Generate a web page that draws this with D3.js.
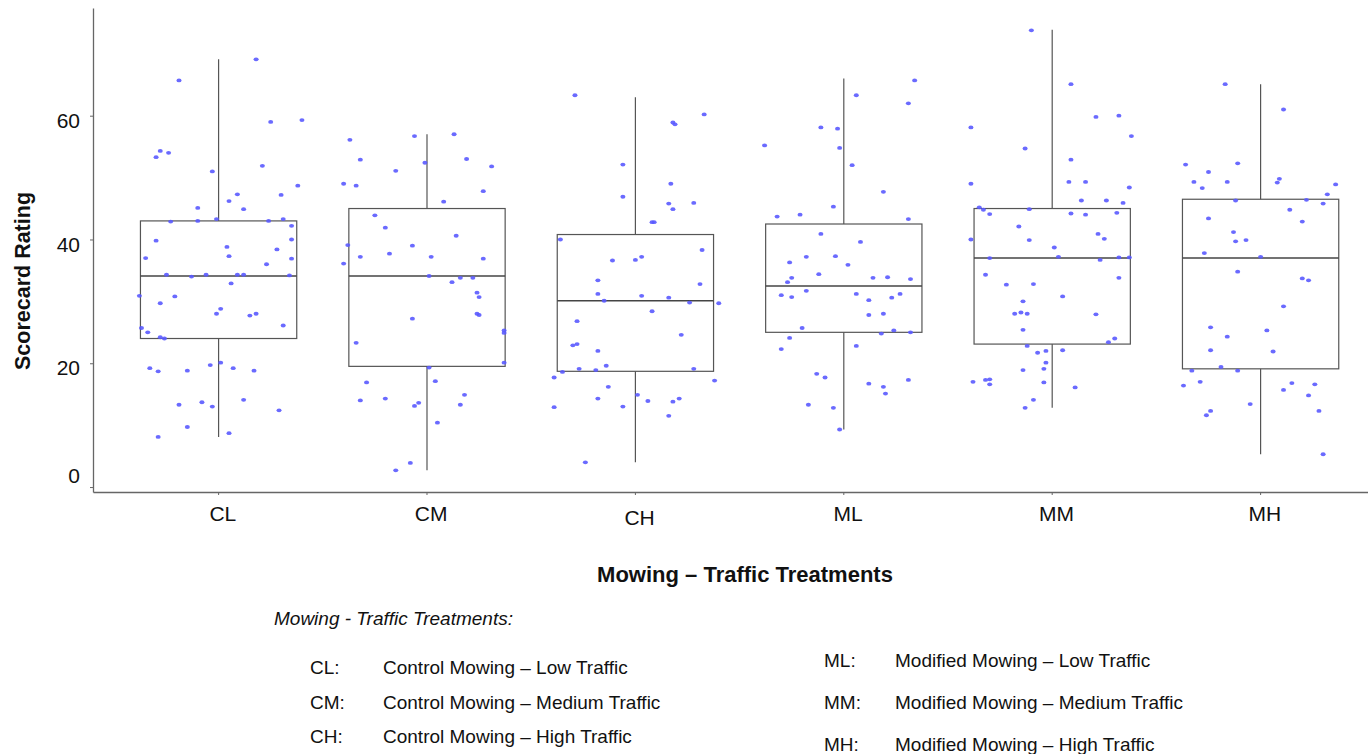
<!DOCTYPE html>
<html>
<head>
<meta charset="utf-8">
<script src="https://cdn.jsdelivr.net/npm/d3@7"></script>
<style>
  html, body { margin: 0; padding: 0; background: #fff; }
  svg { display: block; font-family: "Liberation Sans", Arial, Helvetica, sans-serif; }
</style>
</head>
<body>
<svg id="chart" width="1368" height="754"></svg>
<script>
// Treatment codes along the x axis
const categories = ["CL", "CM", "CH", "ML", "MM", "MH"];

// Box summaries per treatment: lower whisker, Q1, median, Q3, upper whisker
const whiskerLow  = [8.1, 2.7, 4.0, 9.3, 12.8, 5.3];
const q1          = [24.0, 19.5, 18.7, 25.0, 23.1, 19.1];
const medians     = [34.1, 34.1, 30.1, 32.5, 37.0, 37.0];
const q3          = [43.0, 45.0, 40.8, 42.5, 45.0, 46.5];
const whiskerHigh = [69.1, 57.0, 63.0, 66.0, 73.9, 65.1];

// Individual scorecard ratings per treatment
const ratingsCL = [69.1, 65.7, 59.0, 59.3, 54.3, 54.0, 53.3, 51.9, 51.0, 48.7, 47.3, 47.2, 46.2, 45.1, 44.9, 42.9, 43.0, 43.3, 43.0, 43.3, 42.2, 39.8, 40.0, 38.8, 38.4, 37.3, 37.0, 36.9, 36.0, 34.3, 34.0, 34.3, 34.3, 34.3, 34.2, 32.9, 30.9, 30.8, 29.7, 28.8, 28.0, 28.0, 27.7, 26.1, 25.7, 25.0, 24.2, 24.0, 20.1, 19.7, 19.2, 19.2, 18.7, 18.8, 18.8, 14.1, 13.3, 13.7, 13.0, 12.4, 9.7, 8.1, 8.7];
const ratingsCM = [56.1, 56.7, 57.0, 52.9, 52.4, 53.0, 51.1, 51.8, 49.0, 48.7, 47.8, 46.1, 43.9, 41.9, 40.6, 39.1, 39.0, 37.7, 37.2, 37.2, 36.9, 36.1, 34.1, 33.1, 33.8, 33.8, 31.4, 30.7, 28.0, 27.8, 27.2, 25.3, 24.9, 23.3, 20.1, 19.3, 16.9, 17.1, 14.0, 14.3, 14.9, 13.6, 13.1, 13.3, 10.4, 3.9, 2.7];
const ratingsCH = [63.3, 60.2, 58.9, 58.6, 52.1, 49.0, 46.9, 45.8, 45.9, 44.9, 42.8, 42.8, 40.0, 38.3, 36.6, 36.7, 37.2, 33.4, 32.8, 31.2, 30.9, 30.6, 30.1, 29.8, 29.7, 28.4, 26.8, 24.6, 23.1, 22.9, 22.0, 19.6, 19.1, 18.9, 19.1, 18.6, 17.7, 17.2, 16.2, 14.3, 14.9, 13.9, 13.8, 14.3, 12.9, 13.0, 11.5, 4.0];
const ratingsML = [65.7, 63.3, 62.0, 58.1, 57.9, 55.2, 54.8, 52.0, 47.7, 45.3, 43.7, 44.0, 43.3, 40.9, 39.6, 37.2, 37.3, 36.3, 35.9, 34.4, 33.8, 33.1, 33.8, 33.9, 33.6, 31.7, 31.0, 30.7, 31.2, 30.2, 30.6, 31.2, 27.8, 28.0, 25.7, 24.8, 25.3, 25.0, 24.1, 22.3, 22.8, 18.3, 17.7, 16.7, 16.2, 15.1, 17.3, 13.3, 12.8, 9.3];
const ratingsMM = [73.8, 65.1, 59.8, 60.0, 58.1, 56.7, 54.7, 52.9, 49.0, 49.3, 49.3, 48.4, 46.3, 46.3, 45.9, 45.2, 44.8, 44.9, 44.1, 44.2, 44.0, 44.3, 42.1, 40.9, 40.0, 39.9, 40.1, 38.7, 37.0, 37.2, 36.7, 37.1, 37.1, 34.3, 33.8, 32.7, 32.8, 30.8, 30.0, 28.0, 28.2, 28.0, 27.9, 25.4, 24.0, 23.4, 22.8, 21.7, 22.0, 22.1, 20.1, 18.9, 19.1, 17.0, 17.3, 17.4, 16.6, 16.9, 16.1, 14.1, 12.8];
const ratingsMH = [65.1, 61.0, 52.1, 52.3, 50.9, 49.3, 49.3, 48.3, 49.8, 49.2, 48.9, 47.3, 46.3, 46.4, 45.8, 44.8, 43.4, 42.9, 41.2, 39.7, 39.9, 37.8, 37.2, 34.8, 33.7, 33.4, 29.2, 25.8, 25.3, 24.3, 22.1, 21.9, 19.4, 18.8, 18.8, 16.4, 17.0, 15.7, 16.8, 16.6, 14.8, 13.4, 12.3, 11.6, 12.3, 5.3];

// Horizontal jitter of each rating, as a fraction of the category band
const jitterCL = [0.18, -0.19, 0.25, 0.40, -0.28, -0.24, -0.30, 0.21, -0.03, 0.38, 0.09, 0.30, 0.05, -0.10, 0.12, -0.23, -0.10, -0.01, 0.24, 0.31, 0.35, -0.30, 0.35, 0.04, 0.28, 0.05, -0.35, 0.35, 0.23, -0.25, -0.13, -0.06, 0.09, 0.12, 0.34, 0.06, -0.38, -0.21, -0.28, 0.01, -0.01, 0.18, 0.15, 0.31, -0.37, -0.34, -0.28, -0.26, 0.01, -0.04, -0.33, 0.07, -0.29, -0.15, 0.17, 0.12, -0.19, -0.08, -0.03, 0.29, -0.15, -0.29, 0.05];
const jitterCM = [-0.37, -0.06, 0.13, -0.32, -0.01, 0.19, -0.15, 0.31, -0.40, -0.34, 0.27, 0.08, -0.25, -0.20, 0.14, -0.38, -0.07, -0.18, -0.32, 0.02, 0.27, -0.40, 0.01, 0.12, 0.16, 0.22, 0.24, 0.25, 0.24, 0.25, -0.07, 0.37, 0.37, -0.34, 0.37, 0.01, -0.29, 0.04, -0.32, -0.20, 0.18, -0.04, -0.06, 0.16, 0.05, -0.08, -0.15];
const jitterCH = [-0.29, 0.33, 0.18, 0.19, -0.06, 0.17, -0.06, 0.16, 0.28, 0.18, 0.08, 0.09, -0.36, 0.32, -0.11, 0.00, 0.03, -0.18, 0.31, -0.18, 0.03, 0.16, -0.15, 0.26, 0.40, 0.08, -0.28, 0.22, -0.28, -0.30, -0.18, -0.14, -0.27, -0.19, 0.28, -0.35, -0.39, 0.38, -0.13, -0.18, 0.01, 0.06, 0.18, 0.21, -0.39, -0.06, 0.16, -0.24];
const jitterML = [0.34, 0.06, 0.31, -0.11, -0.03, -0.38, -0.02, 0.04, 0.19, -0.05, -0.32, -0.21, 0.31, -0.11, 0.08, -0.18, -0.04, -0.26, 0.02, -0.12, -0.25, -0.27, 0.14, 0.21, 0.32, -0.18, -0.30, -0.25, 0.06, 0.12, 0.23, 0.27, 0.12, 0.19, -0.20, 0.18, 0.24, 0.32, -0.26, -0.30, 0.06, -0.13, -0.09, 0.12, 0.19, 0.20, 0.31, -0.17, -0.05, -0.02];
const jitterMM = [-0.10, 0.09, 0.21, 0.32, -0.39, 0.38, -0.13, 0.09, -0.39, 0.08, 0.16, 0.37, 0.14, 0.26, 0.34, -0.35, -0.33, -0.11, -0.30, 0.09, 0.16, 0.31, -0.16, 0.22, -0.39, -0.11, 0.25, 0.01, -0.30, 0.03, 0.23, 0.32, 0.37, -0.32, 0.32, -0.22, -0.09, 0.05, -0.14, -0.18, -0.15, -0.12, 0.21, -0.14, 0.30, 0.27, -0.12, -0.07, -0.03, 0.05, -0.03, -0.14, -0.04, -0.38, -0.32, -0.30, -0.30, -0.04, 0.11, -0.09, -0.13];
const jitterMH = [-0.17, 0.11, -0.36, -0.11, -0.25, -0.32, -0.16, -0.28, 0.09, 0.08, 0.36, 0.32, -0.12, 0.22, 0.30, 0.14, -0.25, 0.20, -0.13, -0.12, -0.07, -0.27, 0.00, -0.11, 0.20, 0.23, 0.11, -0.24, 0.03, -0.16, -0.24, 0.06, -0.19, -0.33, -0.11, -0.37, -0.29, 0.11, 0.15, 0.26, 0.23, -0.05, -0.24, -0.26, 0.28, 0.30];

// Y-axis tick values
const yTicks = [0, 20, 40, 60];

// Legend entries
const legendCodes = ["CL:", "CM:", "CH:", "ML:", "MM:", "MH:"];
const legendNames = [
  "Control Mowing \u2013 Low Traffic",
  "Control Mowing \u2013 Medium Traffic",
  "Control Mowing \u2013 High Traffic",
  "Modified Mowing \u2013 Low Traffic",
  "Modified Mowing \u2013 Medium Traffic",
  "Modified Mowing \u2013 High Traffic"
];

(function draw() {
  const ratings = [ratingsCL, ratingsCM, ratingsCH, ratingsML, ratingsMM, ratingsMH];
  const jitters = [jitterCL, jitterCM, jitterCH, jitterML, jitterMM, jitterMH];

  const boxes = categories.map((c, i) => ({
    cat: c, lo: whiskerLow[i], q1: q1[i], med: medians[i], q3: q3[i], hi: whiskerHigh[i]
  }));
  const points = [];
  categories.forEach((c, i) => {
    ratings[i].forEach((v, j) => points.push({ cat: c, value: v, jitter: jitters[i][j] }));
  });

  const svg = d3.select("#chart");
  const axisColor = "#666";
  const boxColor = "#555";

  // Plot frame
  const plotLeft = 93, plotRight = 1368, plotTop = 8, plotBottom = 492;

  const x = d3.scaleBand()
    .domain(categories)
    .range([plotLeft, plotRight])
    .paddingInner(0)
    .paddingOuter(0.059)
    .align(0.87);

  const y = d3.scaleLinear()
    .domain([-0.8, 77.4])
    .range([plotBottom, plotTop]);

  const bw = x.bandwidth();
  const boxW = bw * 0.75;
  const cx = c => x(c) + bw / 2;

  // Y axis
  const yAxis = svg.append("g")
    .attr("transform", `translate(${plotLeft},0)`)
    .call(d3.axisLeft(y).tickValues(yTicks).tickSize(3).tickSizeOuter(0).tickPadding(10));
  yAxis.select(".domain").attr("stroke", axisColor).attr("stroke-width", 1.3);
  yAxis.selectAll(".tick line").attr("stroke", axisColor);
  yAxis.selectAll(".tick text")
    .attr("font-size", 21)
    .attr("fill", "#111")
    .attr("dy", d => d === 0 ? "-0.22em" : "0.55em");

  // X axis
  const xAxis = svg.append("g")
    .attr("transform", `translate(0,${plotBottom})`)
    .call(d3.axisBottom(x).tickSize(3).tickSizeOuter(0).tickPadding(11));
  xAxis.select(".domain").attr("stroke", axisColor).attr("stroke-width", 1.3);
  xAxis.selectAll(".tick line").attr("stroke", axisColor);
  xAxis.selectAll(".tick text")
    .attr("font-size", 21)
    .attr("fill", "#111")
    .attr("dx", "0.2em")
    .attr("dy", d => d === "CH" ? "0.9em" : "0.71em");

  // Whiskers
  svg.append("g").selectAll("line")
    .data(boxes).join("line")
    .attr("x1", d => cx(d.cat)).attr("x2", d => cx(d.cat))
    .attr("y1", d => y(d.lo)).attr("y2", d => y(d.hi))
    .attr("stroke", boxColor).attr("stroke-width", 1.2);

  // Boxes
  svg.append("g").selectAll("rect")
    .data(boxes).join("rect")
    .attr("x", d => cx(d.cat) - boxW / 2)
    .attr("width", boxW)
    .attr("y", d => y(d.q3))
    .attr("height", d => y(d.q1) - y(d.q3))
    .attr("fill", "#fff")
    .attr("stroke", boxColor)
    .attr("stroke-width", 1.2);

  // Medians
  svg.append("g").selectAll("line")
    .data(boxes).join("line")
    .attr("x1", d => cx(d.cat) - boxW / 2)
    .attr("x2", d => cx(d.cat) + boxW / 2)
    .attr("y1", d => y(d.med)).attr("y2", d => y(d.med))
    .attr("stroke", "#444").attr("stroke-width", 1.5);

  // Jittered ratings
  svg.append("g").selectAll("ellipse")
    .data(points).join("ellipse")
    .attr("cx", d => cx(d.cat) + d.jitter * bw)
    .attr("cy", d => y(d.value))
    .attr("rx", 2.5)
    .attr("ry", 1.9)
    .attr("fill", "#5a5aff")
    .attr("fill-opacity", 0.9);

  // Axis titles
  svg.append("text")
    .attr("transform", `translate(30,${(plotTop + plotBottom) / 2 + 31}) rotate(-90)`)
    .attr("text-anchor", "middle")
    .attr("font-size", 21.5)
    .attr("font-weight", "bold")
    .attr("fill", "#111")
    .text("Scorecard Rating");

  svg.append("text")
    .attr("x", 745)
    .attr("y", 582)
    .attr("text-anchor", "middle")
    .attr("font-size", 22)
    .attr("font-weight", "bold")
    .attr("fill", "#111")
    .text("Mowing \u2013 Traffic Treatments");

  // Treatment key
  const key = svg.append("g").attr("font-size", 19).attr("fill", "#111");
  key.append("text")
    .attr("x", 274).attr("y", 625)
    .attr("font-style", "italic")
    .text("Mowing - Traffic Treatments:");

  const keyRowsY = [[674, 709, 743], [667, 709, 751]];
  const keyCols = [{ code: 310, name: 383 }, { code: 824, name: 895 }];
  legendCodes.forEach((code, i) => {
    const col = i < 3 ? 0 : 1;
    const row = i % 3;
    const yy = keyRowsY[col][row];
    key.append("text").attr("x", keyCols[col].code).attr("y", yy).text(code);
    key.append("text").attr("x", keyCols[col].name).attr("y", yy).text(legendNames[i]);
  });
})();
</script>
</body>
</html>
